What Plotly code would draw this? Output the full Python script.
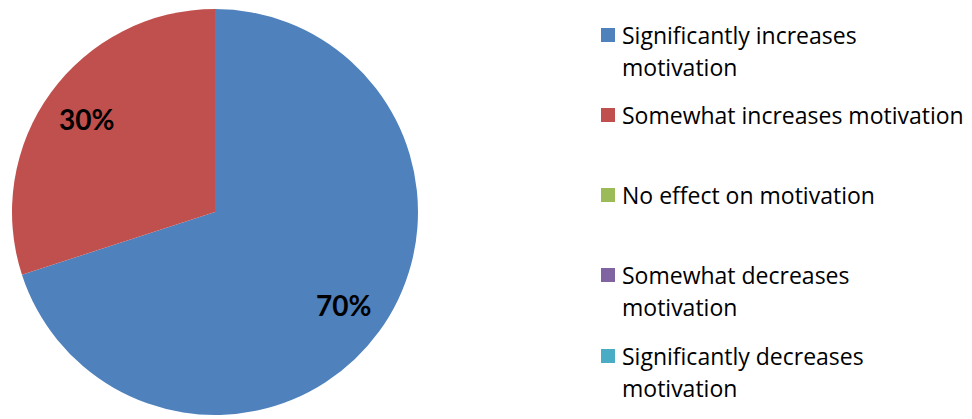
import math
import plotly.graph_objects as go

categories = ["Significantly increases motivation", "Somewhat increases motivation",
              "No effect on motivation", "Somewhat decreases motivation",
              "Significantly decreases motivation"]
values = [70, 30, 0, 0, 0]
colors = ["#4F81BD", "#C0504D", "#9BBB59", "#8064A2", "#4BACC6"]
legend_lines = [["Significantly increases", "motivation"],
                ["Somewhat increases motivation"],
                ["No effect on motivation"],
                ["Somewhat decreases", "motivation"],
                ["Significantly decreases", "motivation"]]

W, H = 972, 419
FONT = "'Open Sans', Calibri, sans-serif"
LFONT = "Lato, Calibri, sans-serif"

dom_x = [12 / W, 418 / W]
dom_y = [1 - 415 / H, 1 - 9 / H]

fig = go.Figure(go.Pie(
    labels=categories, values=values, sort=False, direction="clockwise", rotation=0,
    marker=dict(colors=colors, line=dict(width=0)),
    textinfo="none",
    domain=dict(x=dom_x, y=dom_y),
    showlegend=False, hoverinfo="label+percent",
))

# percentage labels placed along each slice's mid-angle
cx = (dom_x[0] + dom_x[1]) / 2 * W
cy = (1 - (dom_y[0] + dom_y[1]) / 2) * H
R = (dom_x[1] - dom_x[0]) * W / 2
total = sum(values)
cum = 0
for v in values:
    if v > 0:
        mid = (cum + v / 2) / total * 2 * math.pi
        px = cx + 0.78 * R * math.sin(mid)
        py = cy - 0.78 * R * math.cos(mid)
        fig.add_annotation(x=px / W, y=1 - py / H, xref="paper", yref="paper",
                           xanchor="center", yanchor="middle", showarrow=False,
                           text=f"{round(v / total * 100)}%",
                           font=dict(family=LFONT, size=28, color="black", weight="bold"))
    cum += v

# legend drawn as shapes + annotations
first_line_y = [35, 115, 195, 275, 356]
line_pitch = 32
for i, (lines, c) in enumerate(zip(legend_lines, colors)):
    yc = first_line_y[i]
    fig.add_shape(type="rect", xref="paper", yref="paper",
                  x0=601 / W, x1=615 / W, y0=1 - (yc + 7) / H, y1=1 - (yc - 7) / H,
                  fillcolor=c, line=dict(width=0))
    for j, ln in enumerate(lines):
        fig.add_annotation(x=620 / W, y=1 - (yc + j * line_pitch) / H, xref="paper", yref="paper",
                           xanchor="left", yanchor="middle", text=ln, showarrow=False,
                           font=dict(family=FONT, size=23, color="black"))

fig.update_layout(width=W, height=H, margin=dict(l=0, r=0, t=0, b=0),
                  paper_bgcolor="white", plot_bgcolor="white")
fig.write_html("out.html", config={"displayModeBar": False},
               post_script="document.body.style.margin='0';")
